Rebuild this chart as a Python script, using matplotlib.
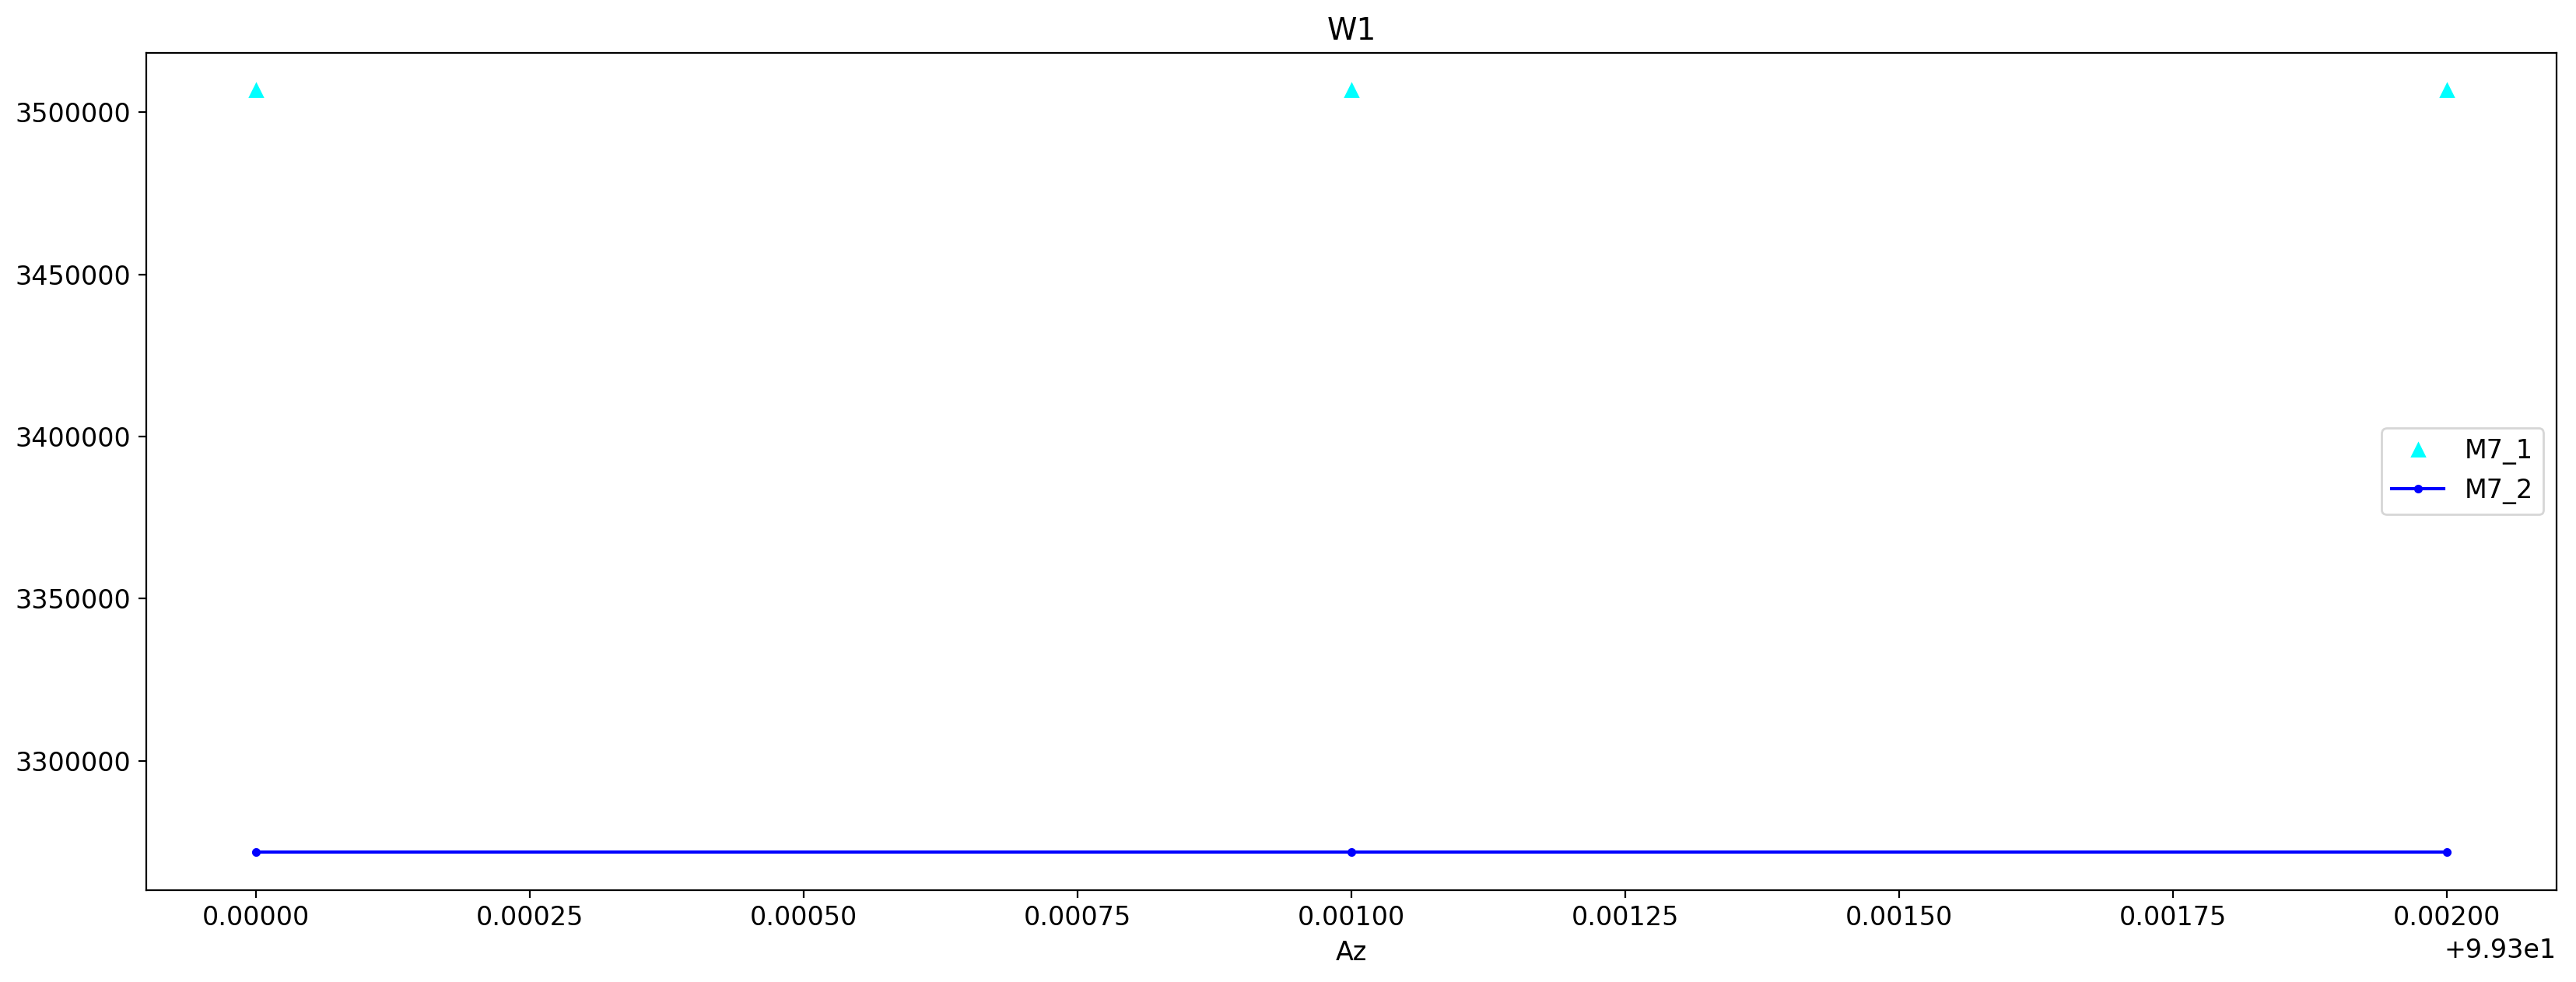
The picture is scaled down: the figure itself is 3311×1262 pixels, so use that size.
import matplotlib
matplotlib.use("Agg")
import matplotlib.pyplot as plt

# datos
az = [99.300, 99.301, 99.302]
m7_1 = [3506700, 3506700, 3506700]
m7_2 = [3271800, 3271800, 3271800]

fig = plt.figure(figsize=(16.555, 6.31), dpi=200)
ax = fig.add_axes([0.0568, 0.0935, 0.9356, 0.853])

ax.plot(az, m7_1, '^', color='cyan', label='M7_1')
ax.plot(az, m7_2, '.-', color='blue', label='M7_2')

ax.set_title("W1", fontsize=14)
ax.set_xlabel("Az", fontsize=12)
ax.tick_params(labelsize=12)
ax.ticklabel_format(axis='y', style='plain', useOffset=False)
ax.xaxis.get_offset_text().set_fontsize(12)
ax.legend(loc='center right', fontsize=12)

fig.savefig("out.png", dpi=200)
